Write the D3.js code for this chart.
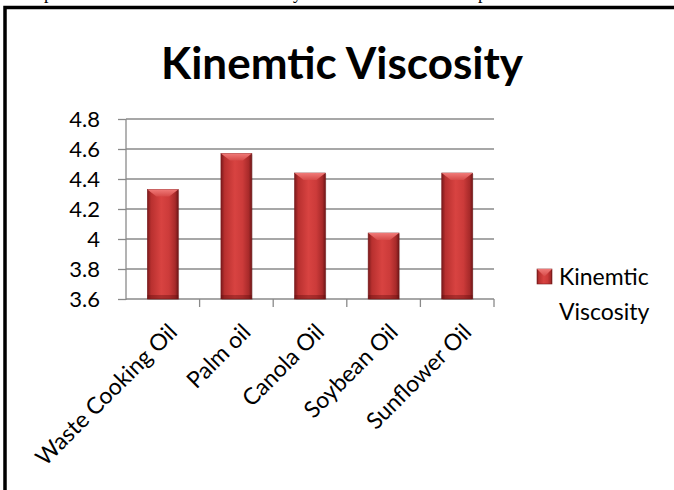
<!DOCTYPE html>
<html>
<head>
<meta charset="utf-8">
<script src="https://cdn.jsdelivr.net/npm/d3@7"></script>
<style>
  html, body { margin: 0; padding: 0; background: #fff; }
  svg { display: block; }
</style>
</head>
<body>
<svg id="chart"></svg>
<script>
const categories = ['Waste Cooking Oil', 'Palm oil', 'Canola Oil', 'Soybean Oil', 'Sunflower Oil'];
const values = [4.33, 4.57, 4.44, 4.04, 4.44];
const yTicks = [3.6, 3.8, 4, 4.2, 4.4, 4.6, 4.8];
const seriesName = 'Kinemtic Viscosity';
const titleText = 'Kinemtic Viscosity';

const width = 674;
const height = 490;
const FONT = 'Lato, "Open Sans", sans-serif';

const svg = d3.select('#chart')
    .attr('width', width)
    .attr('height', height);

// gradients for the bevelled bars
const defs = svg.append('defs');
const barGrad = defs.append('linearGradient')
    .attr('id', 'barGrad')
    .attr('x1', '0').attr('x2', '1').attr('y1', '0').attr('y2', '0');
[[0, '#7a1a1c'], [0.12, '#b8302f'], [0.45, '#d84341'], [0.7, '#cc3b3a'], [0.9, '#a82a2a'], [1, '#6e1718']]
    .forEach(s => barGrad.append('stop').attr('offset', s[0]).attr('stop-color', s[1]));

const capGrad = defs.append('linearGradient')
    .attr('id', 'capGrad')
    .attr('x1', '0').attr('x2', '0').attr('y1', '0').attr('y2', '1');
capGrad.append('stop').attr('offset', 0).attr('stop-color', '#f07a78');
capGrad.append('stop').attr('offset', 1).attr('stop-color', '#d64a48');

// page text cut off above the chart frame (only descenders show)
const pageText = svg.append('g')
    .attr('font-family', '"Liberation Serif", serif')
    .attr('font-size', 18)
    .attr('fill', '#000');
pageText.append('text').attr('x', 44).attr('y', -1).text('p');
pageText.append('text').attr('x', 293).attr('y', -1).text('y');
pageText.append('text').attr('x', 478).attr('y', -1).text('p');

// chart frame (only top and left edges visible)
svg.append('path')
    .attr('d', `M5,${height + 5} V7.5 H${width + 5}`)
    .attr('fill', 'none')
    .attr('stroke', '#000')
    .attr('stroke-width', 3.5);

// title
svg.append('text')
    .attr('x', 342)
    .attr('y', 79)
    .attr('text-anchor', 'middle')
    .attr('font-family', FONT)
    .attr('font-weight', 'bold')
    .attr('font-size', 44)
    .attr('fill', '#000')
    .text(titleText);

const plot = { left: 126, right: 494, top: 119, bottom: 299 };

const x = d3.scaleBand()
    .domain(categories)
    .range([plot.left, plot.right])
    .paddingInner(0.58)
    .paddingOuter(0.29);

const y = d3.scaleLinear()
    .domain([3.6, 4.8])
    .range([plot.bottom, plot.top]);

// gridlines
svg.append('g')
    .selectAll('line')
    .data(yTicks.slice(1))
    .join('line')
    .attr('x1', plot.left)
    .attr('x2', plot.right)
    .attr('y1', d => y(d))
    .attr('y2', d => y(d))
    .attr('stroke', '#8a8a8a')
    .attr('stroke-width', 1.3);

// y axis
const yAxis = svg.append('g')
    .attr('transform', `translate(${plot.left},0)`)
    .call(d3.axisLeft(y).tickValues(yTicks).tickSize(8).tickPadding(18).tickFormat(d3.format('')));
yAxis.select('.domain').attr('stroke', '#8a8a8a').attr('stroke-width', 1.3).attr('d', `M0,${plot.top}V${plot.bottom + 1}`);
yAxis.selectAll('.tick line').attr('stroke', '#8a8a8a').attr('stroke-width', 1.3);
yAxis.selectAll('.tick text')
    .attr('font-family', FONT)
    .attr('font-size', 22)
    .attr('fill', '#000');

// x axis
const xTickPos = d3.range(categories.length + 1).map(i => plot.left + i * (plot.right - plot.left) / categories.length);
svg.append('line')
    .attr('x1', plot.left).attr('x2', plot.right)
    .attr('y1', plot.bottom).attr('y2', plot.bottom)
    .attr('stroke', '#8a8a8a').attr('stroke-width', 1.3);
svg.append('g')
    .selectAll('line')
    .data(xTickPos.slice(1))
    .join('line')
    .attr('x1', d => d).attr('x2', d => d)
    .attr('y1', plot.bottom).attr('y2', plot.bottom + 8)
    .attr('stroke', '#8a8a8a').attr('stroke-width', 1.3);

// bars
const bars = svg.append('g')
    .selectAll('g')
    .data(categories.map((c, i) => ({ c, v: values[i] })))
    .join('g');

bars.append('rect')
    .attr('x', d => x(d.c) + 1)
    .attr('y', d => y(d.v) + 1)
    .attr('width', x.bandwidth())
    .attr('height', d => plot.bottom - y(d.v))
    .attr('fill', 'rgba(0,0,0,0.12)');

bars.append('rect')
    .attr('x', d => x(d.c))
    .attr('y', d => y(d.v))
    .attr('width', x.bandwidth())
    .attr('height', d => plot.bottom - y(d.v))
    .attr('fill', 'url(#barGrad)')
    .attr('stroke', '#7a1c1d')
    .attr('stroke-width', 0.6);

// top bevel
bars.append('path')
    .attr('d', d => {
        const x0 = x(d.c), x1 = x0 + x.bandwidth(), t = y(d.v);
        const bv = 7;
        return `M${x0},${t} L${x1},${t} L${x1 - bv * 1.3},${t + bv} L${x0 + bv * 1.3},${t + bv} Z`;
    })
    .attr('fill', 'url(#capGrad)');

// bottom darkening
bars.append('rect')
    .attr('x', d => x(d.c))
    .attr('y', plot.bottom - 4)
    .attr('width', x.bandwidth())
    .attr('height', 4)
    .attr('fill', 'rgba(90,10,10,0.35)');

// category labels
svg.append('g')
    .selectAll('text')
    .data(categories)
    .join('text')
    .attr('transform', d => `translate(${x(d) + x.bandwidth() / 2 + 10},${plot.bottom + 29}) rotate(-45)`)
    .attr('text-anchor', 'end')
    .attr('dy', '0.35em')
    .attr('font-family', FONT)
    .attr('font-size', 23)
    .attr('fill', '#000')
    .text(d => d);

// legend
const legend = svg.append('g');
legend.append('rect')
    .attr('x', 537).attr('y', 269)
    .attr('width', 15).attr('height', 15)
    .attr('fill', 'url(#barGrad)')
    .attr('stroke', '#7a1c1d').attr('stroke-width', 0.6);
legend.append('path')
    .attr('d', 'M537,269 L552,269 L544.5,276.5 Z')
    .attr('fill', 'url(#capGrad)');
const words = seriesName.split(' ');
legend.selectAll('text.leg')
    .data(words)
    .join('text')
    .attr('class', 'leg')
    .attr('x', 559)
    .attr('y', (d, i) => 285 + i * 35)
    .attr('font-family', FONT)
    .attr('font-size', 23)
    .attr('fill', '#000')
    .text(d => d);
</script>
</body>
</html>
